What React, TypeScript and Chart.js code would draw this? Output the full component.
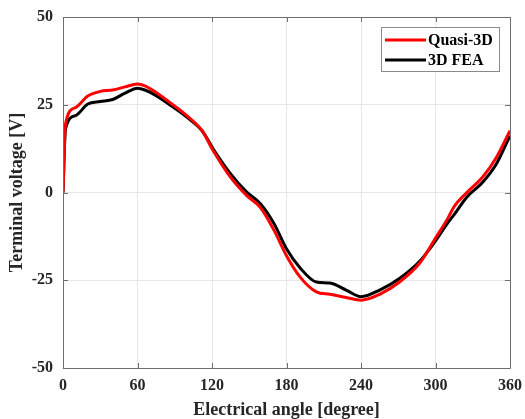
import React, { useEffect, useRef } from "react";
import { Chart, registerables } from "chart.js";

Chart.register(...registerables);

const angles = [0, 2, 10, 20, 30, 40, 50, 60, 66, 75, 90, 100, 112, 121, 135, 148, 159, 170, 180, 191, 204, 215, 228, 240, 255, 271, 288, 300, 310, 315, 325, 338, 349, 360];
const quasi3D = [0, 19.5, 24.2, 27.5, 28.8, 29.2, 30.1, 30.9, 30.4, 28.5, 24.6, 21.8, 17.6, 11.9, 4.3, -0.9, -4.3, -10.8, -18.0, -24.1, -28.3, -29.0, -29.9, -30.7, -29.0, -25.5, -19.8, -13.0, -7.3, -4.0, -0.1, 4.4, 10.0, 17.6];
const fea3D = [0, 18.1, 21.9, 25.2, 25.9, 26.5, 28.3, 29.7, 29.2, 27.6, 24.0, 21.4, 17.6, 12.4, 5.3, 0.1, -3.2, -8.9, -16.0, -21.5, -25.5, -25.8, -27.8, -29.7, -27.8, -24.5, -19.3, -13.8, -8.6, -6.3, -1.4, 2.9, 8.1, 16.2];
const xTicks = [0, 60, 120, 180, 240, 300, 360];
const yTicks = [-50, -25, 0, 25, 50];
const seriesNames = ["Quasi-3D", "3D FEA"];
const seriesColors = ["#ff0000", "#000000"];
const xTitle = "Electrical angle [degree]";
const yTitle = "Terminal voltage [V]";

const FONT = "'Liberation Serif', 'Times New Roman', serif";

const framePlugin = {
  id: "matlabFrame",
  afterDatasetsDraw(chart: any) {
    const { ctx, chartArea, scales } = chart;
    const { left, right, top, bottom } = chartArea;
    const xs = scales.x;
    const ys = scales.y;
    ctx.save();
    ctx.strokeStyle = "#6e6e6e";
    ctx.lineWidth = 1;
    ctx.beginPath();
    ctx.rect(Math.round(left) + 0.5, Math.round(top) + 0.5, Math.round(right - left), Math.round(bottom - top));
    ctx.stroke();
    const tl = 5;
    ctx.beginPath();
    xTicks.forEach((v) => {
      const p = Math.round(xs.getPixelForValue(v)) + 0.5;
      ctx.moveTo(p, bottom);
      ctx.lineTo(p, bottom - tl);
      ctx.moveTo(p, top);
      ctx.lineTo(p, top + tl);
    });
    yTicks.forEach((v) => {
      const p = Math.round(ys.getPixelForValue(v)) + 0.5;
      ctx.moveTo(left, p);
      ctx.lineTo(left + tl, p);
      ctx.moveTo(right, p);
      ctx.lineTo(right - tl, p);
    });
    ctx.stroke();

    // legend box
    const bx = 381, by = 27, bw = 118, bh = 44;
    ctx.fillStyle = "#ffffff";
    ctx.fillRect(bx, by, bw, bh);
    ctx.strokeStyle = "#8a8a8a";
    ctx.strokeRect(bx + 0.5, by + 0.5, bw, bh);
    ctx.font = `bold 16px ${FONT}`;
    ctx.textBaseline = "middle";
    ctx.textAlign = "left";
    seriesNames.forEach((name, i) => {
      const cy = by + 13 + i * 20;
      ctx.strokeStyle = seriesColors[i];
      ctx.lineWidth = 3;
      ctx.beginPath();
      ctx.moveTo(bx + 4, cy);
      ctx.lineTo(bx + 45, cy);
      ctx.stroke();
      ctx.fillStyle = "#000000";
      ctx.fillText(name, bx + 47, cy + 1);
    });
    ctx.restore();
  },
};

const zeroPad = (s: any) => {
  s.paddingLeft = 0;
  s.paddingRight = 0;
  s.paddingTop = 0;
  s.paddingBottom = 0;
};

export default function App() {
  const ref = useRef<HTMLCanvasElement | null>(null);
  useEffect(() => {
    if (!ref.current) return;
    const mk = (vals: number[]) => angles.map((a, i) => ({ x: a, y: vals[i] }));
    const chart = new Chart(ref.current, {
      type: "line",
      data: {
        datasets: [
          {
            label: seriesNames[0],
            data: mk(quasi3D),
            borderColor: seriesColors[0],
            borderWidth: 3,
            pointRadius: 0,
            cubicInterpolationMode: "monotone",
          },
          {
            label: seriesNames[1],
            data: mk(fea3D),
            borderColor: seriesColors[1],
            borderWidth: 3,
            pointRadius: 0,
            cubicInterpolationMode: "monotone",
          },
        ],
      },
      options: {
        responsive: false,
        animation: false,
        layout: { padding: { top: 17, right: 15, left: 0, bottom: 0 } },
        plugins: { legend: { display: false }, tooltip: { enabled: false } },
        scales: {
          x: {
            type: "linear",
            min: 0,
            max: 360,
            afterBuildTicks: (s: any) => {
              s.ticks = xTicks.map((v) => ({ value: v }));
            },
            afterFit: (s: any) => {
              s.height = 51;
              zeroPad(s);
            },
            ticks: {
              color: "#262626",
              font: { family: FONT, weight: "bold", size: 16 },
              padding: 8,
              maxRotation: 0,
            },
            grid: { color: "#e6e6e6", drawTicks: false },
            border: { display: false },
            title: {
              display: true,
              text: xTitle,
              color: "#262626",
              font: { family: FONT, weight: "bold", size: 18, lineHeight: 1 },
              padding: { top: 0, bottom: 0 },
            },
          },
          y: {
            type: "linear",
            min: -50,
            max: 50,
            afterBuildTicks: (s: any) => {
              s.ticks = yTicks.map((v) => ({ value: v }));
            },
            afterFit: (s: any) => {
              s.width = 63;
              zeroPad(s);
            },
            ticks: {
              color: "#262626",
              font: { family: FONT, weight: "bold", size: 16 },
              padding: 10,
            },
            grid: { color: "#e6e6e6", drawTicks: false },
            border: { display: false },
            title: {
              display: true,
              text: yTitle,
              color: "#262626",
              font: { family: FONT, weight: "bold", size: 18 },
              padding: { top: 7, bottom: 0 },
            },
          },
        },
      },
      plugins: [framePlugin],
    });
    return () => chart.destroy();
  }, []);
  return (
    <div style={{ position: "fixed", left: 0, top: 0, width: 525, height: 419, background: "#fff" }}>
      <canvas ref={ref} width={525} height={419} />
    </div>
  );
}
